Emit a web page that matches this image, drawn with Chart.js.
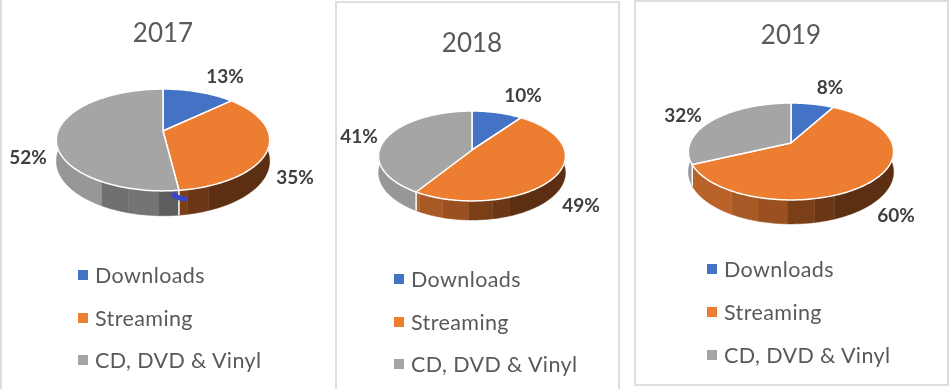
<!DOCTYPE html>
<html>
<head>
<meta charset="utf-8">
<script src="https://cdn.jsdelivr.net/npm/chart.js@4"></script>
<style>
  html, body { margin: 0; padding: 0; background: #fff; }
  body { position: relative; width: 949px; height: 389px; overflow: hidden; font-family: Lato, sans-serif; }
  canvas { position: absolute; }
  .frame { position: absolute; box-sizing: border-box; border: 0 solid #dedede; }
  .key { position: absolute; color: #595959; font-size: 21.5px; letter-spacing: 0.4px; line-height: 24px; white-space: nowrap; }
  .key i { position: absolute; left: -17px; top: 7px; width: 10px; height: 10px; }
</style>
</head>
<body>
<script>
const years = ["2017", "2018", "2019"];
const categories = ["Downloads", "Streaming", "CD, DVD & Vinyl"];
const values2017 = [13, 35, 52];
const values2018 = [10, 49, 41];
const values2019 = [8, 60, 32];
const colors = ["#4472c4", "#ed7d31", "#a5a5a5"];

// wall colours of the 3D rim, left to right, one per band of bandBreaks
const bandBreaks = [-0.5, -0.28, -0.04, 0.19, 0.36];
const wallShades = [
  ["#3a62a8", "#345895", "#2f4f86", "#2a4778", "#26406c", "#223a61"],
  ["#b9622a", "#a85a26", "#9a5020", "#7b3f18", "#6c3716", "#5c2f12"],
  ["#979797", "#707070", "#747474", "#5d5d5d", "#5d5d5d", "#555555"]
];

// layout of each panel, measured on the page
const panels = [
  { values: values2017, left: 0, width: 324, titleY: 34, apexX: 163, apexY: 131, radius: 105, squash: 0.47, tilt: 0.176, depth: 20.5,
    labelAt: [[225, 77], [295, 178], [28, 158]], keyX: 95, keyY: [275, 318, 360] },
  { values: values2018, left: 336, width: 264, titleY: 44, apexX: 472, apexY: 150, radius: 92.6, squash: 0.477, tilt: 0.133, depth: 16.5,
    labelAt: [[523, 96], [581, 206], [359, 137]], keyX: 411, keyY: [279, 322, 364] },
  { values: values2019, left: 634, width: 312, titleY: 36, apexX: 791, apexY: 143, radius: 101, squash: 0.465, tilt: 0.175, depth: 19.8,
    labelAt: [[830, 88], [896, 216], [683, 116]], keyX: 724, keyY: [269, 312, 355] }
];

const frames = [
  { left: 0, top: 0, width: 334, height: 389, border: "0 0 0 2px" },
  { left: 335, top: 1, width: 285, height: 388, border: "2px 2px 0 2px" },
  { left: 634, top: 0, width: 315, height: 386, border: "2px 2px 2px 2px" }
];

// Chart.js has no 3D pie: take the angles of its arcs and project them on a tilted disc
const tiltedPie = {
  id: "tiltedPie",
  beforeDatasetsDraw(chart, args, opts) {
    const ctx = chart.ctx;
    const arcs = chart.getDatasetMeta(0).data;
    const step = Math.PI / 180;
    const project = (arc, theta, lift) => {
      const X = Math.sin(theta), Y = -Math.cos(theta);
      const w = 1 - opts.tilt * Y;
      const R = arc.outerRadius;
      return [arc.x + X * R / w, arc.y + (Y * R * opts.squash + lift) / w];
    };
    const bandOf = theta => {
      const band = bandBreaks.findIndex(b => Math.sin(theta) < b);
      return band < 0 ? bandBreaks.length : band;
    };

    // rim, one polygon for each run of angles in the same band
    arcs.forEach((arc, i) => {
      const from = arc.startAngle + Math.PI / 2, to = arc.endAngle + Math.PI / 2;
      let t = from;
      while (t < to) {
        const band = bandOf(t + step / 2);
        let end = t;
        while (end < to && bandOf(end + step / 2) === band) end = Math.min(end + step, to);
        if (-Math.cos((t + end) / 2) > -0.3 || -Math.cos(t) > -0.2) {
          const angles = [];
          for (let a = t; a < end; a += step) angles.push(a);
          angles.push(end);
          ctx.beginPath();
          angles.forEach(a => { const p = project(arc, a, 0); ctx.lineTo(p[0], p[1]); });
          angles.reverse().forEach(a => { const p = project(arc, a, opts.depth); ctx.lineTo(p[0], p[1]); });
          ctx.closePath();
          ctx.fillStyle = ctx.strokeStyle = wallShades[i][band];
          ctx.lineWidth = 0.5;
          ctx.fill();
          ctx.stroke();
        }
        t = end;
      }
    });

    // white seams on the rim
    arcs.forEach(arc => {
      const t = arc.startAngle + Math.PI / 2;
      if (-Math.cos(t) <= 0) return;
      const a = project(arc, t, 0), b = project(arc, t, opts.depth);
      ctx.strokeStyle = "#fff";
      ctx.lineWidth = 1.5;
      ctx.beginPath();
      ctx.moveTo(a[0], a[1]); ctx.lineTo(b[0], b[1]);
      ctx.stroke();
    });

    // top face
    arcs.forEach(arc => {
      const from = arc.startAngle + Math.PI / 2, to = arc.endAngle + Math.PI / 2;
      ctx.beginPath();
      ctx.moveTo(arc.x, arc.y);
      for (let t = from; t < to; t += step) {
        const p = project(arc, t, 0);
        ctx.lineTo(p[0], p[1]);
      }
      const p = project(arc, to, 0);
      ctx.lineTo(p[0], p[1]);
      ctx.closePath();
      ctx.fillStyle = arc.options.backgroundColor;
      ctx.fill();
      ctx.strokeStyle = "#fff";
      ctx.lineWidth = 1.5;
      ctx.lineJoin = "round";
      ctx.stroke();
    });

    // the blue pen stroke sitting on the 2017 rim
    if (opts.penMark) {
      ctx.strokeStyle = "#3b46c6";
      ctx.lineWidth = 5;
      ctx.lineCap = "round";
      ctx.beginPath();
      ctx.moveTo(arcs[0].x + 11, arcs[0].y + 64);
      ctx.quadraticCurveTo(arcs[0].x + 14, arcs[0].y + 67, arcs[0].x + 22, arcs[0].y + 68);
      ctx.stroke();
      ctx.lineCap = "butt";
    }
    return false;
  },
  afterDraw(chart, args, opts) {
    const ctx = chart.ctx;
    ctx.save();
    ctx.font = "bold 19px Lato, sans-serif";
    ctx.fillStyle = "#404040";
    ctx.textAlign = "center";
    ctx.textBaseline = "middle";
    chart.data.datasets[0].data.forEach((v, i) => {
      ctx.fillText(v + "%", opts.labelAt[i][0] - opts.left, opts.labelAt[i][1]);
    });
    ctx.restore();
  }
};

frames.forEach(f => {
  const d = document.createElement("div");
  d.className = "frame";
  d.style.cssText = `left:${f.left}px;top:${f.top}px;width:${f.width}px;height:${f.height}px;border-width:${f.border}`;
  document.body.appendChild(d);
});

panels.forEach((p, n) => {
  const canvas = document.createElement("canvas");
  canvas.width = p.width;
  canvas.height = 389;
  canvas.style.left = p.left + "px";
  canvas.style.top = "0px";
  document.body.appendChild(canvas);

  const titleSize = 26, titleLine = 30;
  const areaTop = p.titleY + titleLine / 2;
  const dx = p.apexX - (p.left + p.width / 2);

  new Chart(canvas, {
    type: "pie",
    plugins: [tiltedPie],
    data: {
      labels: categories,
      datasets: [{ data: p.values, backgroundColor: colors, borderWidth: 0, radius: p.radius }]
    },
    options: {
      responsive: false,
      animation: false,
      layout: {
        padding: {
          top: 0,
          left: dx > 0 ? 2 * dx : 0,
          right: dx < 0 ? -2 * dx : 0,
          bottom: 389 - (2 * p.apexY - areaTop)
        }
      },
      plugins: {
        legend: { display: false },
        tooltip: { enabled: false },
        title: {
          display: true,
          text: years[n],
          color: "#595959",
          font: { family: "Lato, sans-serif", size: titleSize, weight: "normal", lineHeight: titleLine / titleSize },
          padding: { top: p.titleY - titleLine / 2, bottom: 0 }
        },
        tiltedPie: {
          squash: p.squash,
          tilt: p.tilt,
          depth: p.depth,
          labelAt: p.labelAt,
          left: p.left,
          penMark: n === 0
        }
      }
    }
  });

  // legend stacked in one column, the built-in one only wraps in rows
  categories.forEach((name, i) => {
    const row = document.createElement("div");
    row.className = "key";
    row.style.left = p.keyX + "px";
    row.style.top = (p.keyY[i] - 12) + "px";
    row.textContent = name;
    const box = document.createElement("i");
    box.style.background = colors[i];
    row.appendChild(box);
    document.body.appendChild(row);
  });
});
</script>
</body>
</html>
